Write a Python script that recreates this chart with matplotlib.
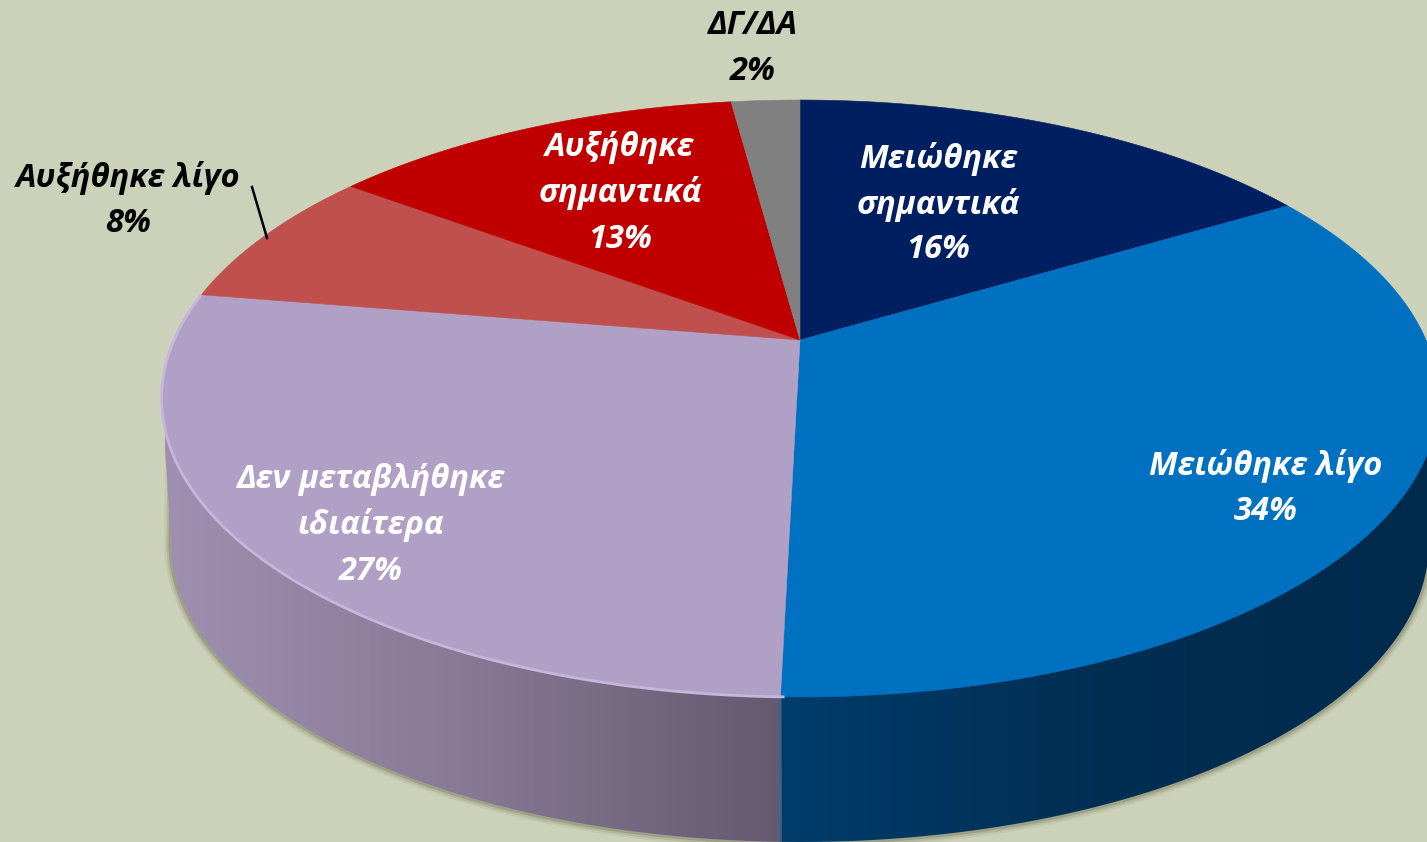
import numpy as np
import matplotlib
matplotlib.use("Agg")
import matplotlib.pyplot as plt
from matplotlib.colors import LinearSegmentedColormap
from matplotlib.patches import Polygon

labels = ["Μειώθηκε\nσημαντικά\n16%", "Μειώθηκε λίγο\n34%", "Δεν μεταβλήθηκε\nιδιαίτερα\n27%",
          "Αυξήθηκε λίγο\n8%", "Αυξήθηκε\nσημαντικά\n13%", "ΔΓ/ΔΑ\n2%"]
values = [16.4, 34.0, 27.2, 7.6, 12.7, 2.1]
colors = ["#001F60", "#0070C0", "#B0A0C6", "#C0504D", "#C00000", "#808080"]
text_colors = ["white", "white", "white", "black", "white", "black"]
label_x = [938, 1266, 371, 128, 620, 753]
label_y = [159, 466, 480, 178, 148, 26]

BG = "#CCD1B9"
CX, CY = 800, 340      # apex of the pie
RX, RY, K = 626, 287, 0.196   # perspective tilt
DEPTH = 145
LINE_STEP = 45.5


def top_face(deg):
    # unit circle -> tilted disc, angle clockwise from 12 o'clock
    t = np.radians(deg)
    u, v = np.sin(t), np.cos(t)
    w = 1 + K * v
    return CX + RX * u / w, CY - RY * v / w


def bottom_edge(deg):
    x, y = top_face(deg)
    return CX + 0.985 * (x - CX), y + DEPTH


fig = plt.figure(figsize=(14.27, 8.42), dpi=100, facecolor=BG)
ax = fig.add_axes([0, 0, 1, 1])
ax.set_facecolor(BG)

edges = np.cumsum([0] + values) * 3.6
split = edges[2]   # where the blue and purple slices meet at the front
left_end, right_end = 259, 101


def side(deg_a, deg_b, ramp, x0, x1):
    th = np.linspace(deg_a, deg_b, 200)
    bx, by = bottom_edge(th)
    tx, ty = top_face(deg_b)
    px, py = top_face(split)
    pts = np.vstack([np.column_stack([bx, by]), [[tx, ty], [px, 400]]])
    patch = Polygon(pts, closed=True, fc="none", ec="none", transform=ax.transData)
    ax.add_patch(patch)
    cmap = LinearSegmentedColormap.from_list("side", ramp)
    im = ax.imshow(np.linspace(0, 1, 256).reshape(1, -1), cmap=cmap, extent=[x0, x1, 842, 300],
                   aspect="auto", zorder=2)
    im.set_clip_path(patch)


# soft shadow under the drum
th = np.linspace(left_end, right_end, 400)
sx, sy = bottom_edge(th)
tx0, ty0 = top_face(left_end + 8)
tx1, ty1 = top_face(right_end - 8)
sx = np.r_[tx0 + 4, sx, tx1 - 4]
sy = np.r_[ty0 + 70, sy, ty1 + 70]
for lw, a in [(10, 0.08), (7, 0.13), (4, 0.22)]:
    ax.plot(sx, sy, color="#4d5238", lw=lw, alpha=a, zorder=1, solid_capstyle="round")

side(split, left_end, ["#9F90B2", "#877893", "#645A70"], 165, 780)
side(split, right_end, ["#003C6B", "#002E53", "#002A4C"], 780, 1430)

fx, fy = bottom_edge(split)
tx, ty = top_face(split)
ax.plot([tx, fx], [ty, fy], color="#3F6289", lw=1.6, zorder=3)

# top face slices
for i, val in enumerate(values):
    th = np.linspace(edges[i], edges[i + 1], 200)
    x, y = top_face(th)
    ax.fill(np.r_[CX, x], np.r_[CY, y], fc=colors[i], ec=colors[i], lw=0.4, zorder=4)

# light lip on the purple rim
th = np.linspace(split - 0.3, edges[3], 300)
x, y = top_face(th)
ax.plot(x, y, color="#C6B6DC", lw=2, zorder=5, solid_capstyle="butt")

# leader for the small slice
ax.plot([252, 267], [187, 238], color="black", lw=1.8, zorder=6)

font = dict(family=["Open Sans", "DejaVu Sans"], weight="bold", style="italic", fontsize=23.5,
            ha="center", va="center", zorder=7)
for i, lab in enumerate(labels):
    for j, line in enumerate(lab.split("\n")):
        ax.text(label_x[i], label_y[i] + j * LINE_STEP, line, color=text_colors[i], **font)

ax.set_xlim(0, 1427)
ax.set_ylim(842, 0)
ax.axis("off")
fig.savefig("out.png", dpi=100, facecolor=BG)
